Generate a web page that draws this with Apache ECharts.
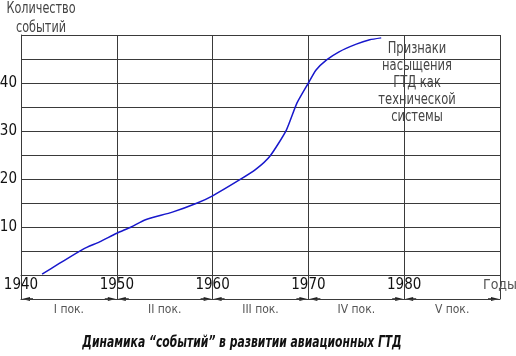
<!DOCTYPE html>
<html><head><meta charset="utf-8">
<script src="https://cdn.jsdelivr.net/npm/echarts@6/dist/echarts.min.js"></script>
<style>html,body{margin:0;padding:0;background:#fff}#c{width:516px;height:356px}</style>
</head><body><div id="c"></div>
<script>
const years  = [1942.2, 1944, 1946.5, 1948.2, 1950, 1951.5, 1953, 1955.8, 1958.4, 1960, 1962.8, 1964.5, 1966, 1967.7, 1968.8, 1970, 1970.8, 1971.9, 1973.2, 1975, 1976.4, 1977.6];
const events = [0.2, 2.4, 5.4, 6.9, 8.7, 10.0, 11.5, 13.1, 15.0, 16.5, 19.8, 22.0, 24.8, 30.2, 35.8, 40.0, 42.7, 44.8, 46.5, 48.1, 49.0, 49.4];
const generations = ['I пок.', 'II пок.', 'III пок.', 'IV пок.', 'V пок.'];
const yTickLabels = [10, 20, 30, 40];
const xTicks = [1940, 1950, 1960, 1970, 1980, 1990];
const xEndLabel = 'Годы';
const yName = 'Количество\nсобытий';
const note = 'Признаки\nнасыщения\nГТД как\nтехнической\nсистемы';
const caption = 'Динамика “событий” в развитии авиационных ГТД';

const F = '"Liberation Sans Narrow","DejaVu Sans Condensed","Liberation Sans",sans-serif';
const gridColor = '#3a3a3a';
const chart = echarts.init(document.getElementById('c'), null, {renderer: 'canvas'});
chart.setOption({
  animation: false,
  grid: {left: 21, right: 16, top: 35, bottom: 81, containLabel: false, outerBoundsMode: 'none'},
  xAxis: [{
    type: 'value', min: 1940, max: 1990, interval: 10,
    axisLine: {show: true, lineStyle: {color: gridColor, width: 1}},
    axisTick: {show: true, inside: false, length: 24, lineStyle: {color: gridColor, width: 1}},
    axisLabel: {margin: 3, fontSize: 15, color: '#111', fontFamily: F, showMinLabel: true, showMaxLabel: true,
      formatter: v => v === 1990 ? '{g|' + xEndLabel + '}' : String(v),
      rich: {g: {color: '#555', fontSize: 14, fontFamily: F}}},
    splitLine: {show: true, lineStyle: {color: gridColor, width: 1}}
  }, {
    type: 'category', data: generations, position: 'bottom', offset: 24, boundaryGap: true,
    axisLine: {show: true, lineStyle: {color: gridColor, width: 1}},
    axisTick: {show: false},
    axisLabel: {margin: 5, fontSize: 12, color: '#555', fontFamily: F},
    splitLine: {show: false}
  }],
  yAxis: {
    type: 'value', min: 0, max: 50, interval: 5,
    axisLine: {show: true, lineStyle: {color: gridColor, width: 1}},
    axisTick: {show: false},
    axisLabel: {margin: 4, fontSize: 15, color: '#111', fontFamily: F,
      formatter: v => yTickLabels.includes(v) ? String(v) : ''},
    splitLine: {show: true, lineStyle: {color: gridColor, width: 1}}
  },
  series: [{
    type: 'line', xAxisIndex: 0,
    data: years.map((y, i) => [y, events[i]]),
    showSymbol: false, smooth: 0.2,
    lineStyle: {color: '#1818cc', width: 1.5}, z: 5
  }]
});

const yBase = chart.convertToPixel({yAxisIndex: 0}, 0) + 24;
const g = [];
xTicks.forEach((t, i) => {
  const px = chart.convertToPixel({xAxisIndex: 0}, t);
  if (i < xTicks.length - 1) {
    g.push({type: 'polygon', shape: {points: [[px + 1, yBase], [px + 9, yBase - 2], [px + 9, yBase + 2]]}, style: {fill: '#222'}});
    g.push({type: 'line', shape: {x1: px + 8, y1: yBase, x2: px + 12, y2: yBase}, style: {stroke: '#222', lineWidth: 1.5}});
  }
  if (i > 0) {
    g.push({type: 'polygon', shape: {points: [[px - 1, yBase], [px - 9, yBase - 2], [px - 9, yBase + 2]]}, style: {fill: '#222'}});
    g.push({type: 'line', shape: {x1: px - 8, y1: yBase, x2: px - 12, y2: yBase}, style: {stroke: '#222', lineWidth: 1.5}});
  }
});
g.push({type: 'text', x: 41, y: 18, scaleX: 0.78, style: {text: yName, fill: '#444', font: '16px ' + F, align: 'center', verticalAlign: 'middle', lineHeight: 19}});
g.push({type: 'text', x: 417, y: 83, scaleX: 0.8, style: {text: note, fill: '#444', font: '16px ' + F, align: 'center', verticalAlign: 'middle', lineHeight: 17}});
g.push({type: 'text', x: 242, y: 343, scaleX: 0.8, style: {text: caption, fill: '#111', font: 'italic bold 15px ' + F, align: 'center', verticalAlign: 'middle'}});
chart.setOption({graphic: g});
</script></body></html>
